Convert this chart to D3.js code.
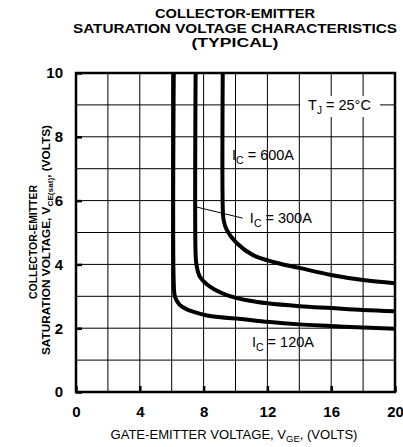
<!DOCTYPE html>
<meta charset="utf-8">
<style>
body { margin: 0; background: #fff; }
text { font-family: "Liberation Sans", Arial, sans-serif; fill: #000; }
.grid line { stroke: #000; stroke-width: 1px; }
.curve { fill: none; stroke: #000; stroke-width: 4px; stroke-linejoin: round; }
</style>
<svg width="403" height="447"></svg>
<script src="https://cdnjs.cloudflare.com/ajax/libs/d3/7.8.5/d3.min.js"></script>
<script>

// data (VGE volts, VCE(sat) volts)
var ic120 = [[6.13,10],[6.13,3.4],[6.2,3.0],[6.5,2.73],[7.0,2.58],[7.4,2.51],[8.4,2.38],[10.5,2.28],[12,2.2],[14,2.12],[16,2.07],[18,2.02],[20,1.98]];
var ic300 = [[7.5,10],[7.5,4.3],[7.55,4.0],[7.77,3.61],[8.4,3.3],[9.45,3.04],[10.9,2.86],[12,2.78],[14,2.69],[16,2.63],[18,2.57],[20,2.53]];
var ic600 = [[9.2,10],[9.2,5.8],[9.25,5.4],[9.45,5.08],[10.07,4.67],[11.1,4.29],[12.5,4.06],[14,3.89],[16,3.67],[18,3.51],[20,3.41]];

var xTicks = [0, 4, 8, 12, 16, 20],
    yTicks = [0, 2, 4, 6, 8, 10],
    xGrid = d3.range(0, 21, 2),
    yGrid = d3.range(0, 11, 1);

var svg = d3.select("svg"),
    margin = {top: 73, right: 8, bottom: 55, left: 76},
    width = 403 - margin.left - margin.right,
    height = 447 - margin.top - margin.bottom,
    g = svg.append("g").attr("transform", "translate(" + margin.left + "," + margin.top + ")");

var x = d3.scaleLinear().domain([0, 20]).range([0, width]),
    y = d3.scaleLinear().domain([0, 10]).range([height, 0]);

// title
var title = ["COLLECTOR-EMITTER", "SATURATION VOLTAGE CHARACTERISTICS", "(TYPICAL)"],
    titleLen = [160, 324, 87];
svg.selectAll(".title")
    .data(title)
    .enter().append("text")
      .attr("x", 235)
      .attr("y", function(d, i) { return 18 + i * 14.5; })
      .attr("text-anchor", "middle")
      .attr("textLength", function(d, i) { return titleLen[i]; })
      .attr("lengthAdjust", "spacingAndGlyphs")
      .style("font-size", "12.5px")
      .style("font-weight", "bold")
      .text(function(d) { return d; });

// grid
var grid = g.append("g").attr("class", "grid");
grid.selectAll(".vx")
    .data(xGrid)
    .enter().append("line")
      .attr("x1", function(d) { return x(d); })
      .attr("x2", function(d) { return x(d); })
      .attr("y1", 0)
      .attr("y2", height);
grid.selectAll(".hy")
    .data(yGrid)
    .enter().append("line")
      .attr("y1", function(d) { return y(d); })
      .attr("y2", function(d) { return y(d); })
      .attr("x1", 0)
      .attr("x2", width);

// T_J label with white box over the grid
var tj = g.append("g").attr("transform", "translate(" + x(14.55) + "," + y(8.84) + ")");
tj.append("rect").attr("x", -8).attr("y", -14).attr("width", 80).attr("height", 21).attr("fill", "#fff");
var tjt = tj.append("text").style("font-size", "14.5px");
tjt.append("tspan").text("T");
tjt.append("tspan").attr("dy", 4).style("font-size", "10px").text("J");
tjt.append("tspan").attr("dy", -4).text(" = 25°C");

// curves
var line = d3.line()
    .x(function(d) { return x(d[0]); })
    .y(function(d) { return y(d[1]); })
    .curve(d3.curveCatmullRom.alpha(0.5));

g.append("clipPath").attr("id", "clip")
  .append("rect").attr("width", width).attr("height", height);

g.selectAll(".curve")
    .data([ic120, ic300, ic600])
    .enter().append("path")
      .attr("class", "curve")
      .attr("clip-path", "url(#clip)")
      .attr("d", line);

// leader line for 300A
g.append("line")
    .attr("x1", x(7.55)).attr("y1", y(5.8))
    .attr("x2", x(10.45)).attr("y2", y(5.45))
    .attr("stroke", "#000").attr("stroke-width", 1);

// curve labels
function icLabel(vx, vy, amps) {
  var t = g.append("text")
      .attr("x", x(vx)).attr("y", y(vy))
      .style("font-size", "14.5px");
  t.append("tspan").text("I");
  t.append("tspan").attr("dy", 4).style("font-size", "10.5px").text("C");
  t.append("tspan").attr("dy", -4).text(" = " + amps);
}
icLabel(9.78, 7.27, "600A");
icLabel(10.9, 5.3, "300A");
icLabel(11.03, 1.41, "120A");

// frame
g.append("rect")
    .attr("width", width).attr("height", height)
    .attr("fill", "none").attr("stroke", "#000").attr("stroke-width", 2.5);

// axes
var xAxis = g.append("g")
    .attr("transform", "translate(0," + height + ")")
    .call(d3.axisBottom(x).tickValues(xTicks).tickSize(-6).tickPadding(14).tickFormat(d3.format("d")));
var yAxis = g.append("g")
    .call(d3.axisLeft(y).tickValues(yTicks).tickSize(-6).tickPadding(13).tickFormat(d3.format("d")));
[xAxis, yAxis].forEach(function(a) {
  a.select(".domain").remove();
  a.selectAll(".tick line").attr("stroke", "#000").attr("stroke-width", 2.5);
  a.selectAll(".tick text")
      .style("font-family", "Liberation Sans, Arial, sans-serif")
      .style("font-size", "15px")
      .style("font-weight", "bold")
      .attr("fill", "#000");
});

// x axis title
var xt = svg.append("text")
    .attr("x", 234)
    .attr("y", 439)
    .attr("text-anchor", "middle")
    .attr("textLength", 247)
    .attr("lengthAdjust", "spacingAndGlyphs")
    .style("font-size", "12.5px");
xt.append("tspan").text("GATE-EMITTER VOLTAGE, V");
xt.append("tspan").attr("dy", 3).style("font-size", "9px").text("GE");
xt.append("tspan").attr("dy", -3).text(", (VOLTS)");

// y axis title
var yt = svg.append("g").attr("transform", "translate(0,240) rotate(-90)");
yt.append("text")
    .attr("x", -2).attr("y", 37)
    .attr("text-anchor", "middle")
    .attr("textLength", 114)
    .attr("lengthAdjust", "spacingAndGlyphs")
    .style("font-size", "11px").style("font-weight", "bold")
    .text("COLLECTOR-EMITTER");
var yt2 = yt.append("text")
    .attr("x", 0).attr("y", 50)
    .attr("text-anchor", "middle")
    .attr("textLength", 230)
    .attr("lengthAdjust", "spacingAndGlyphs")
    .style("font-size", "11.5px").style("font-weight", "bold");
yt2.append("tspan").text("SATURATION VOLTAGE, V");
yt2.append("tspan").attr("dy", 3).style("font-size", "8px").text("CE(sat)");
yt2.append("tspan").attr("dy", -3).text(", (VOLTS)");

</script>
